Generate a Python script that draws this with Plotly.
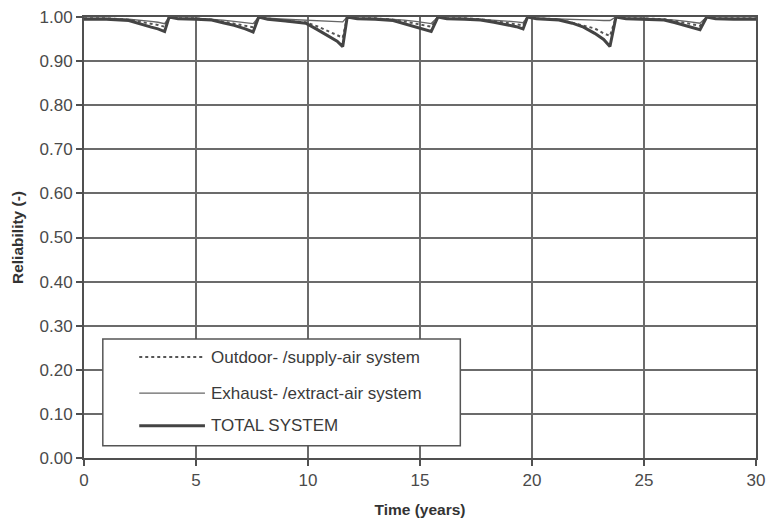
import plotly.graph_objects as go

# Time axis (years)
time_years = [
    0.0, 1.0, 2.0, 2.5, 3.0, 3.3, 3.6, 3.8,
    4.2, 5.0, 5.7, 6.2, 6.7, 7.2, 7.55, 7.8,
    8.2, 9.0, 9.9, 10.4, 10.9, 11.3, 11.55, 11.75,
    12.2, 13.0, 13.8, 14.3, 14.8, 15.2, 15.5, 15.8,
    16.2, 17.0, 17.7, 18.3, 18.9, 19.3, 19.6, 19.8,
    20.2, 21.2, 21.8, 22.3, 22.8, 23.2, 23.48, 23.75,
    24.2, 25.0, 25.9, 26.4, 26.9, 27.2, 27.5, 27.8,
    28.2, 29.0, 30.0,
]

outdoor_supply = [
    0.997, 0.997, 0.994, 0.990, 0.985, 0.982, 0.978, 1.000,
    0.997, 0.997, 0.994, 0.990, 0.985, 0.980, 0.977, 1.000,
    0.997, 0.991, 0.988, 0.979, 0.968, 0.959, 0.953, 1.000,
    0.997, 0.997, 0.994, 0.990, 0.985, 0.981, 0.978, 1.000,
    0.997, 0.997, 0.995, 0.991, 0.987, 0.984, 0.981, 1.000,
    0.997, 0.995, 0.987, 0.981, 0.974, 0.963, 0.957, 1.000,
    0.997, 0.997, 0.995, 0.991, 0.986, 0.983, 0.980, 1.000,
    0.997, 0.997, 0.997,
]

exhaust_extract = [
    0.997, 0.997, 0.995, 0.993, 0.990, 0.988, 0.985, 1.000,
    0.997, 0.997, 0.995, 0.993, 0.990, 0.988, 0.985, 1.000,
    0.997, 0.995, 0.993, 0.992, 0.991, 0.990, 0.989, 1.000,
    0.997, 0.997, 0.995, 0.993, 0.990, 0.988, 0.985, 1.000,
    0.997, 0.997, 0.995, 0.993, 0.991, 0.989, 0.987, 1.000,
    0.997, 0.996, 0.995, 0.994, 0.993, 0.992, 0.992, 1.000,
    0.997, 0.997, 0.995, 0.993, 0.990, 0.988, 0.986, 1.000,
    0.997, 0.997, 0.997,
]

total_system = [
    0.995, 0.995, 0.992, 0.984, 0.977, 0.973, 0.967, 1.000,
    0.996, 0.995, 0.993, 0.987, 0.981, 0.973, 0.966, 1.000,
    0.995, 0.991, 0.986, 0.972, 0.958, 0.945, 0.933, 1.000,
    0.996, 0.995, 0.992, 0.985, 0.978, 0.972, 0.967, 1.000,
    0.996, 0.995, 0.993, 0.988, 0.982, 0.978, 0.973, 1.000,
    0.996, 0.993, 0.986, 0.977, 0.963, 0.949, 0.933, 1.000,
    0.996, 0.995, 0.993, 0.987, 0.980, 0.976, 0.971, 1.000,
    0.996, 0.995, 0.995,
]

legend_labels = [
    "Outdoor- /supply-air system",
    "Exhaust- /extract-air system",
    "TOTAL SYSTEM",
]

x_tick_values = [0, 5, 10, 15, 20, 25, 30]
y_tick_values = [0.0, 0.1, 0.2, 0.3, 0.4, 0.5, 0.6, 0.7, 0.8, 0.9, 1.0]

FONT = "Liberation Sans, Arial, sans-serif"
GRID = "#6b6b6b"
AXIS = "#505050"

fig = go.Figure()
fig.add_trace(go.Scatter(x=time_years, y=exhaust_extract, mode="lines",
                         name=legend_labels[1],
                         line=dict(color="#666666", width=1.4)))
fig.add_trace(go.Scatter(x=time_years, y=outdoor_supply, mode="lines",
                         name=legend_labels[0],
                         line=dict(color="#555555", width=2, dash="dot")))
fig.add_trace(go.Scatter(x=time_years, y=total_system, mode="lines",
                         name=legend_labels[2],
                         line=dict(color="#444444", width=3)))

# Manual legend (box, samples, text) in paper coordinates
box_x0, box_x1, box_y0, box_y1 = 0.028, 0.560, 0.028, 0.270
fig.add_shape(type="rect", xref="paper", yref="paper",
              x0=box_x0, x1=box_x1, y0=box_y0, y1=box_y1,
              line=dict(color="#555555", width=1.5), fillcolor="white",
              layer="above")
sample_x0, sample_x1 = 0.0822, 0.180
rows_y = [0.229, 0.147, 0.073]
styles = [dict(color="#555555", width=1.8, dash="dot"),
          dict(color="#666666", width=1.4),
          dict(color="#444444", width=3)]
for label, yy, st in zip(legend_labels, rows_y, styles):
    fig.add_shape(type="line", xref="paper", yref="paper",
                  x0=sample_x0, x1=sample_x1, y0=yy, y1=yy,
                  line=st, layer="above")
    fig.add_annotation(xref="paper", yref="paper", x=0.186, y=yy,
                       text=label, showarrow=False, xanchor="left",
                       yanchor="middle",
                       font=dict(family=FONT, size=17, color="#3a3a3a"))

fig.update_layout(
    width=766, height=523,
    margin=dict(l=84, r=10, t=17, b=65, autoexpand=False),
    paper_bgcolor="white", plot_bgcolor="white",
    showlegend=False,
    font=dict(family=FONT, color="#444444"),
)
fig.update_xaxes(
    range=[0, 30], tickvals=x_tick_values, automargin=False,
    showgrid=True, gridcolor=GRID, gridwidth=1.5,
    showline=True, linecolor=AXIS, linewidth=2, mirror=True,
    ticks="outside", ticklen=6, tickwidth=1.5, tickcolor=AXIS,
    tickfont=dict(family=FONT, size=17, color="#4a4a4a"),
    title=dict(text="<b>Time (years)</b>", standoff=15,
               font=dict(family=FONT, size=15.5, color="#333333")),
    zeroline=False,
)
fig.update_yaxes(
    range=[0, 1.0], tickvals=y_tick_values, tickformat=".2f", automargin=False,
    showgrid=True, gridcolor=GRID, gridwidth=1.5,
    showline=True, linecolor=AXIS, linewidth=2, mirror=True,
    ticks="outside", ticklen=6, tickwidth=1.5, tickcolor=AXIS,
    tickfont=dict(family=FONT, size=17, color="#4a4a4a"),
    title=dict(text="<b>Reliability (-)</b>", standoff=12,
               font=dict(family=FONT, size=15.5, color="#333333")),
    zeroline=False,
)

fig.write_html(
    "out.html",
    config={"displayModeBar": False},
    post_script="document.body.style.margin='0';document.body.style.overflow='hidden';",
)
